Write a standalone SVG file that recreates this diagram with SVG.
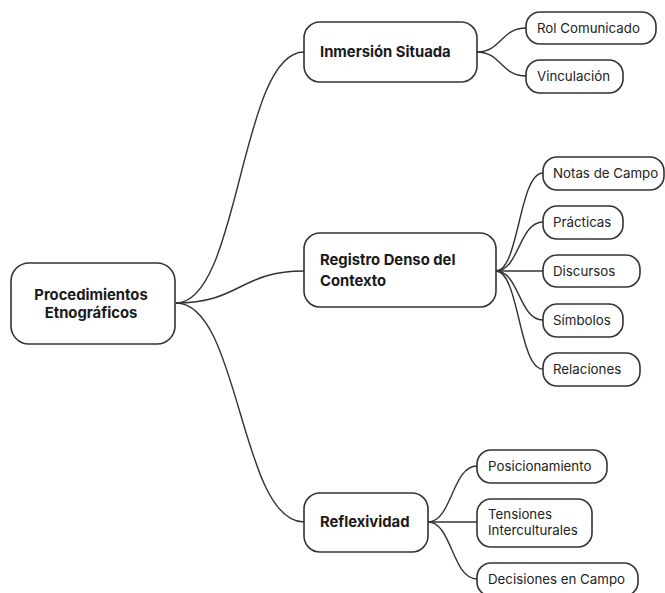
<svg xmlns="http://www.w3.org/2000/svg" width="665" height="593" viewBox="0 0 665 593">
<style>
.box{fill:#fff;stroke:#333;stroke-width:1.6}
.main{font-family:Inter,Roboto,"Liberation Sans",sans-serif;font-size:14.8px;font-weight:bold;fill:#1a1a1a}
.leaf{font-family:Inter,Roboto,"Liberation Sans",sans-serif;font-size:13.3px;fill:#222}
.edge{fill:none;stroke:#333;stroke-width:1.4}
</style>
<rect width="665" height="593" fill="#fff"/>
<g id="connectors">
<path class="edge" d="M176,303 C240,303 240,52 304,52"/>
<path class="edge" d="M176,303 C240,303 240,271 304,271"/>
<path class="edge" d="M176,303 C240,303 240,522 304,522"/>
<path class="edge" d="M477,52 C501,52 501,28 526,28"/>
<path class="edge" d="M477,52 C501,52 501,76 526,76"/>
<path class="edge" d="M496,271 C519,271 519,173 543,173"/>
<path class="edge" d="M496,271 C519,271 519,222 543,222"/>
<path class="edge" d="M496,271 L543,271"/>
<path class="edge" d="M496,271 C519,271 519,320 543,320"/>
<path class="edge" d="M496,271 C519,271 519,369 543,369"/>
<path class="edge" d="M428,522 C452,522 452,466 477,466"/>
<path class="edge" d="M428,522 L477,522"/>
<path class="edge" d="M428,522 C452,522 452,579 477,579"/>
</g>
<g id="root">
<rect class="box" x="11" y="263" width="164" height="81" rx="18"/>
<text class="main" x="91" y="300" text-anchor="middle">Procedimientos</text>
<text class="main" x="91" y="318" text-anchor="middle">Etnográficos</text>
</g>
<g id="inmersion">
<rect class="box" x="304" y="22" width="173" height="60" rx="16"/>
<text class="main" x="320" y="57">Inmersión Situada</text>
</g>
<g id="rol">
<rect class="box" x="526" y="12" width="130" height="32" rx="14"/>
<text class="leaf" x="537" y="32.5">Rol Comunicado</text>
</g>
<g id="vinculacion">
<rect class="box" x="526" y="60" width="97" height="33" rx="14"/>
<text class="leaf" x="537" y="81">Vinculación</text>
</g>
<g id="registro">
<rect class="box" x="304" y="233" width="192" height="74" rx="16"/>
<text class="main" x="320" y="265">Registro Denso del</text>
<text class="main" x="320" y="286">Contexto</text>
</g>
<g id="notas">
<rect class="box" x="543" y="157" width="121" height="33" rx="14"/>
<text class="leaf" x="553" y="178">Notas de Campo</text>
</g>
<g id="practicas">
<rect class="box" x="543" y="206" width="80" height="33" rx="14"/>
<text class="leaf" x="553" y="227">Prácticas</text>
</g>
<g id="discursos">
<rect class="box" x="543" y="255" width="97" height="32" rx="14"/>
<text class="leaf" x="553" y="276">Discursos</text>
</g>
<g id="simbolos">
<rect class="box" x="543" y="304" width="80" height="33" rx="14"/>
<text class="leaf" x="553" y="325">Símbolos</text>
</g>
<g id="relaciones">
<rect class="box" x="543" y="353" width="97" height="33" rx="14"/>
<text class="leaf" x="553" y="374">Relaciones</text>
</g>
<g id="reflexividad">
<rect class="box" x="304" y="493" width="124" height="59" rx="16"/>
<text class="main" x="320" y="527">Reflexividad</text>
</g>
<g id="posicionamiento">
<rect class="box" x="477" y="450" width="130" height="33" rx="14"/>
<text class="leaf" x="488" y="471">Posicionamiento</text>
</g>
<g id="tensiones">
<rect class="box" x="477" y="499" width="115" height="48" rx="14"/>
<text class="leaf" x="488" y="519">Tensiones</text>
<text class="leaf" x="488" y="535">Interculturales</text>
</g>
<g id="decisiones">
<rect class="box" x="477" y="563" width="161" height="33" rx="14"/>
<text class="leaf" x="488" y="584">Decisiones en Campo</text>
</g>
</svg>
